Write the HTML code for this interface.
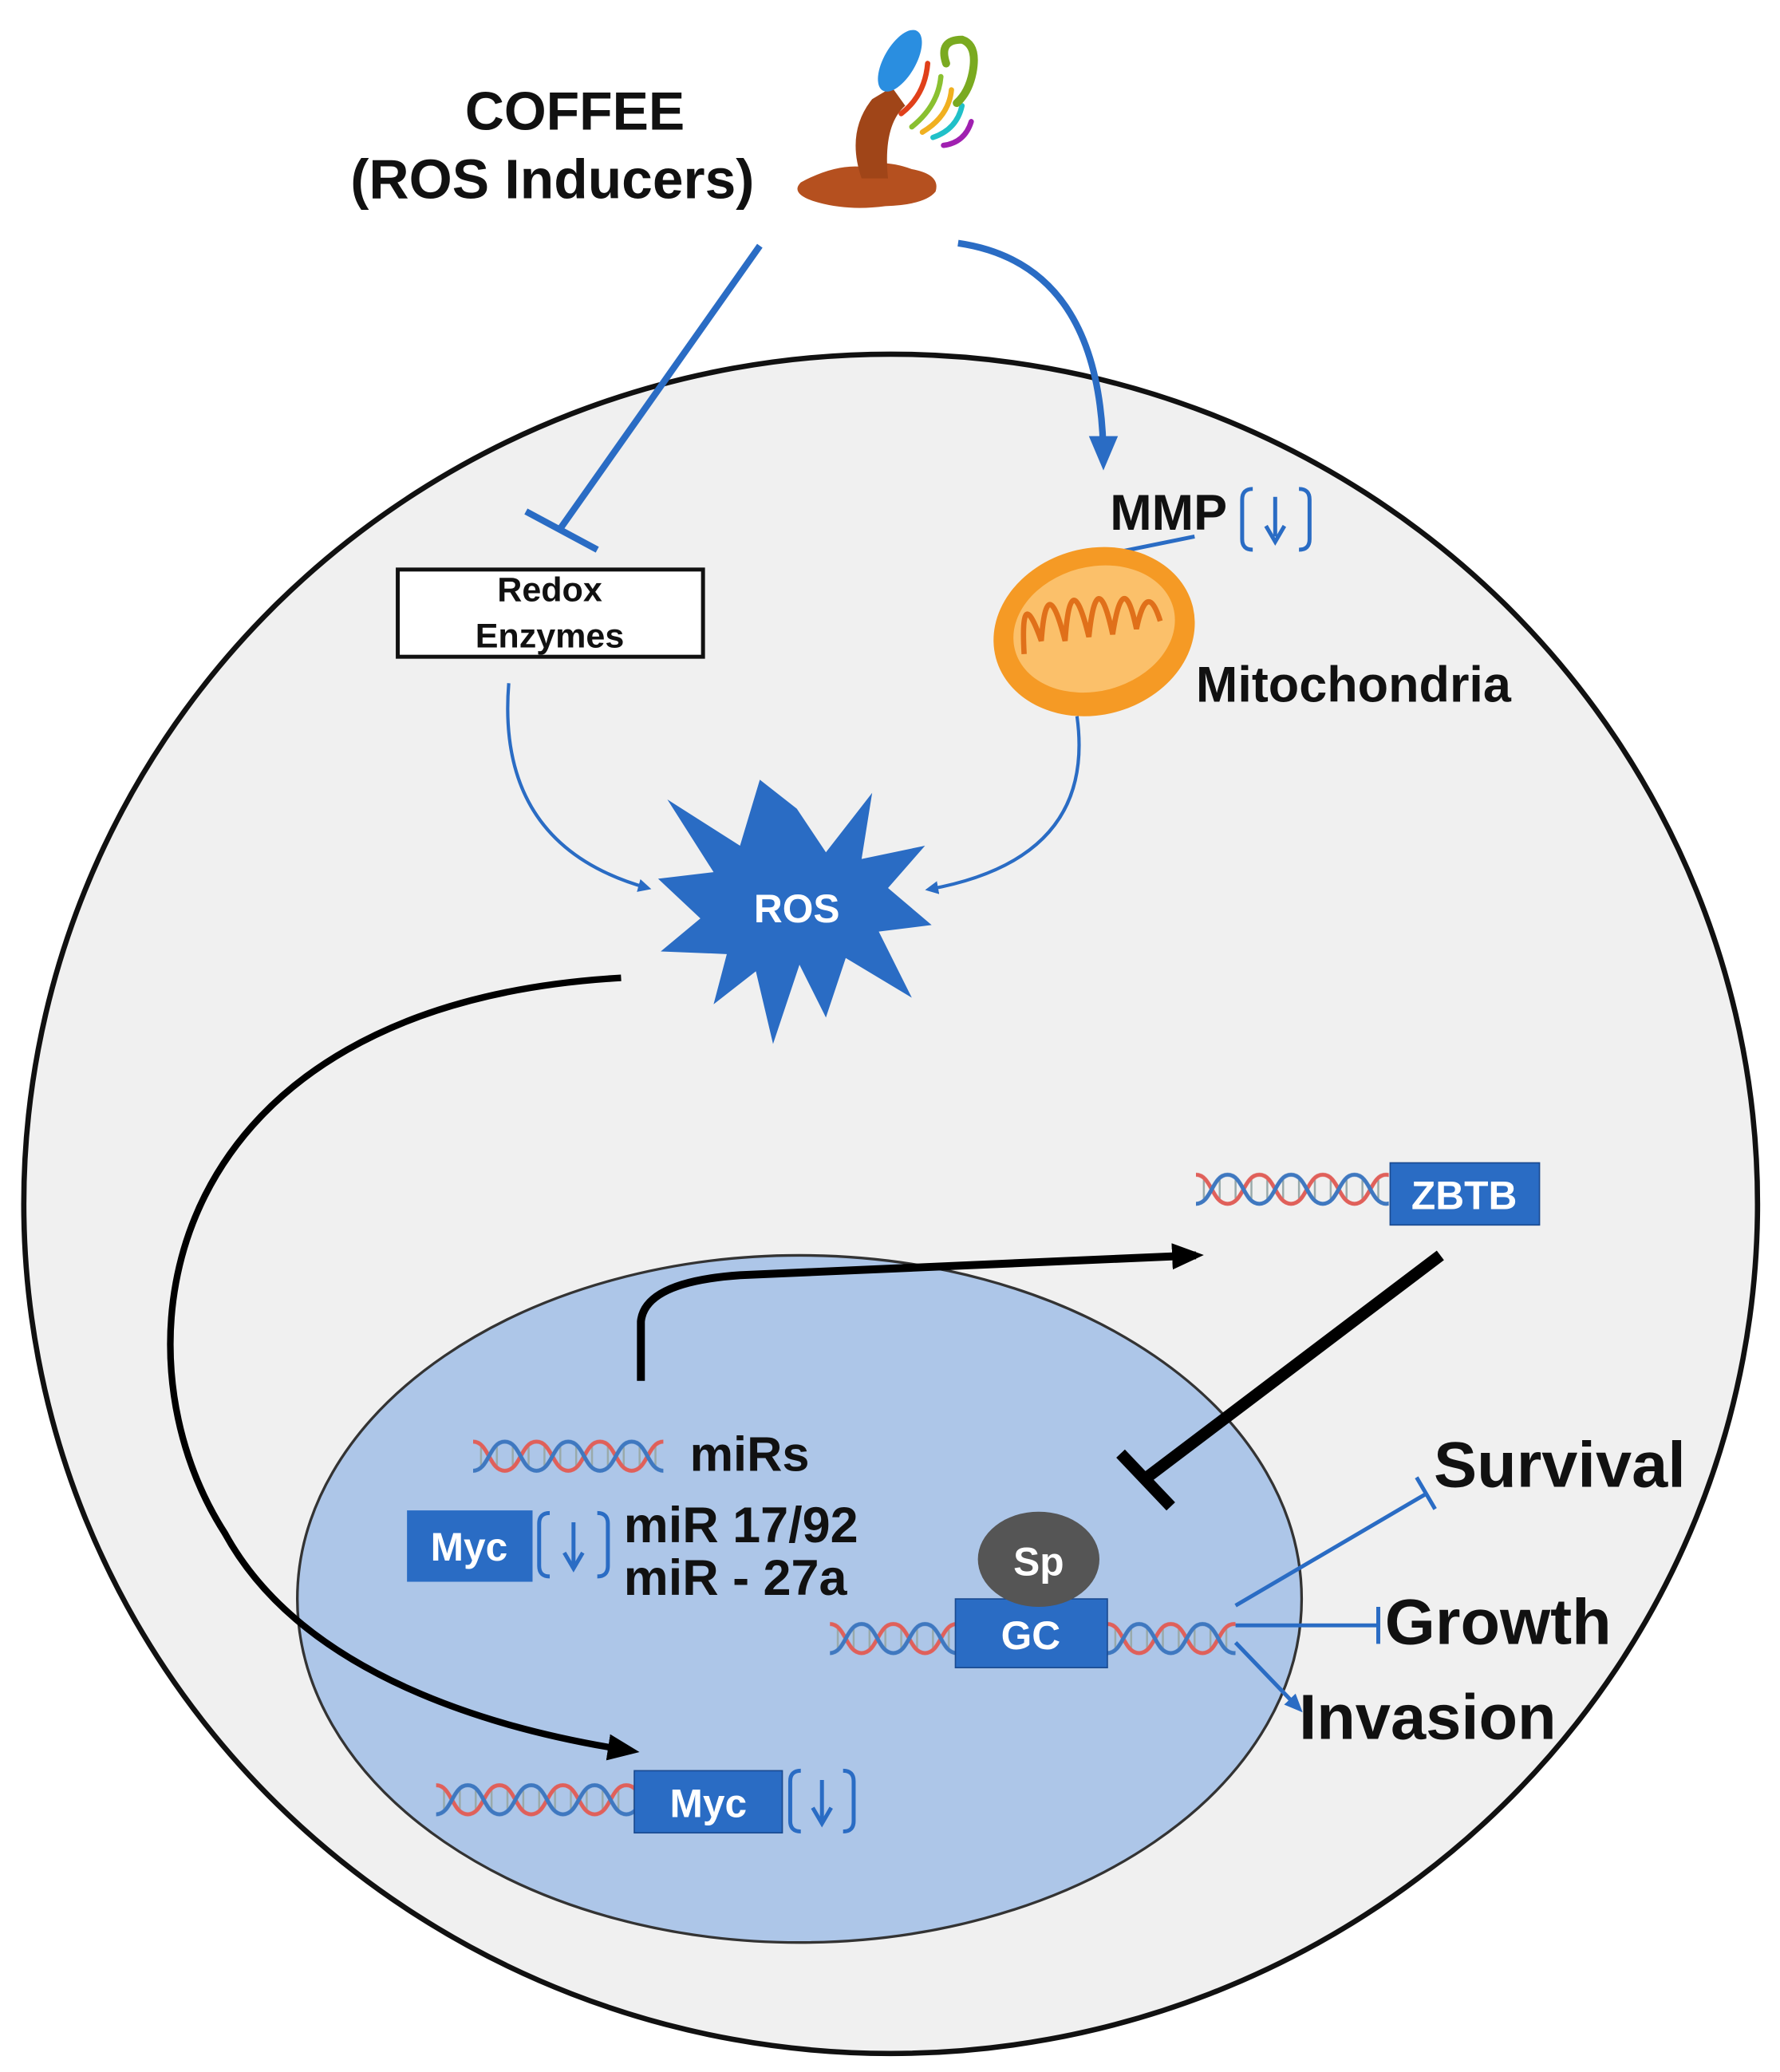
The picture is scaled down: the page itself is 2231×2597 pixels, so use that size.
<!DOCTYPE html>
<html><head><meta charset="utf-8"><style>html,body{margin:0;padding:0;background:#fff}svg{display:block}</style></head><body>
<svg width="2231" height="2597" viewBox="0 0 1347 1568" xmlns="http://www.w3.org/2000/svg" font-family="Liberation Sans, Arial, sans-serif">
<defs>
<pattern id="hx" width="48" height="30" patternUnits="userSpaceOnUse">
<g stroke="#9aa" stroke-width="1.5"><line x1="6" y1="8" x2="6" y2="22"/><line x1="12" y1="12" x2="12" y2="18"/><line x1="30" y1="8" x2="30" y2="22"/><line x1="36" y1="12" x2="36" y2="18"/><line x1="18" y1="8" x2="18" y2="22"/><line x1="42" y1="8" x2="42" y2="22"/></g>
<path d="M0,4 C12,4 12,26 24,26 C36,26 36,4 48,4" fill="none" stroke="#e0605a" stroke-width="3"/>
<path d="M0,26 C12,26 12,4 24,4 C36,4 36,26 48,26" fill="none" stroke="#3f78c0" stroke-width="3"/>
</pattern>
<marker id="ab" markerWidth="10" markerHeight="10" refX="7" refY="5" orient="auto" markerUnits="userSpaceOnUse" viewBox="0 0 10 10"><path d="M0,0 L10,5 L0,10 z" fill="#2a6cc4"/></marker>
<marker id="abig" markerWidth="26" markerHeight="26" refX="20" refY="13" orient="auto" markerUnits="userSpaceOnUse" viewBox="0 0 26 26"><path d="M0,2 L26,13 L0,24 z" fill="#2a6cc4"/></marker>
<marker id="ak" markerWidth="24" markerHeight="24" refX="18" refY="12" orient="auto" markerUnits="userSpaceOnUse" viewBox="0 0 24 24"><path d="M0,2 L24,12 L0,22 z" fill="#000"/></marker>
<marker id="abs" markerWidth="14" markerHeight="14" refX="10" refY="7" orient="auto" markerUnits="userSpaceOnUse" viewBox="0 0 14 14"><path d="M0,1 L14,7 L0,13 z" fill="#2a6cc4"/></marker>
</defs>
<rect width="1347" height="1568" fill="#fff"/>
<ellipse cx="674" cy="911" rx="656" ry="643" fill="#f0f0f0" stroke="#111" stroke-width="4"/>
<ellipse cx="605" cy="1210" rx="380" ry="260" fill="#adc6e8" stroke="#333" stroke-width="2"/>
<text x="435" y="98" font-size="41" font-weight="bold" text-anchor="middle" fill="#111">COFFEE</text>
<text x="418" y="150" font-size="42" font-weight="bold" text-anchor="middle" fill="#111">(ROS Inducers)</text>
<path d="M606,138 Q630,125 650,126 Q668,120 690,128 Q712,132 708,145 Q700,155 670,156 Q640,160 615,152 Q598,146 606,138z" fill="#b5501f"/>
<path d="M652,135 Q640,100 660,75 L675,66 L685,80 Q668,95 672,135z" fill="#a04518"/>
<ellipse cx="681" cy="46" rx="12" ry="26" transform="rotate(30 681 46)" fill="#2a8ee0"/>
<g fill="none" stroke-width="4" stroke-linecap="round">
<path d="M702,48 Q700,72 682,86" stroke="#e0401a"/>
<path d="M712,58 Q710,80 690,96" stroke="#8ac030"/>
<path d="M720,68 Q718,88 698,100" stroke="#f0b020"/>
<path d="M728,80 Q724,98 706,104" stroke="#20c0c8"/>
<path d="M735,92 Q730,108 714,110" stroke="#a020b0"/>
<path d="M716,48 Q710,30 728,30 Q740,34 736,55 Q733,70 724,78" stroke="#7aaa20" stroke-width="6"/>
</g>
<line x1="575" y1="186" x2="424" y2="400" stroke="#2a6cc4" stroke-width="5"/>
<line x1="398" y1="387" x2="452" y2="416" stroke="#2a6cc4" stroke-width="5"/>
<path d="M725,184 Q835,200 835,350" fill="none" stroke="#2a6cc4" stroke-width="5" marker-end="url(#abig)"/>
<text x="840" y="401" font-size="38" font-weight="bold" fill="#111">MMP</text>
<g fill="none" stroke="#2a6cc4" stroke-width="3">
<path d="M948,370 Q940,370 940,378 L940,408 Q940,416 948,416"/>
<path d="M983,370 Q991,370 991,378 L991,408 Q991,416 983,416"/>
<line x1="965" y1="376" x2="965" y2="406"/>
</g>
<path d="M958,398 L965,410 L972,398" fill="none" stroke="#2a6cc4" stroke-width="3"/>
<line x1="845" y1="418" x2="904" y2="406" stroke="#2a6cc4" stroke-width="3"/>
<rect x="301" y="431" width="231" height="66" fill="#fff" stroke="#111" stroke-width="3"/>
<text x="416" y="455" font-size="26" font-weight="bold" text-anchor="middle" fill="#111">Redox</text>
<text x="416" y="490" font-size="26" font-weight="bold" text-anchor="middle" fill="#111">Enzymes</text>
<ellipse cx="828" cy="478" rx="77" ry="63" transform="rotate(-15 828 478)" fill="#f59a25"/>
<ellipse cx="828" cy="476" rx="62" ry="47" transform="rotate(-15 828 476)" fill="#fbc06a"/>
<path d="M775,495 Q772,440 788,485 Q792,430 806,485 Q810,425 824,482 Q830,425 842,480 Q850,428 860,476 Q868,438 878,470" fill="none" stroke="#e0701a" stroke-width="4"/>
<text x="905" y="531" font-size="38" font-weight="bold" fill="#111">Mitochondria</text>
<path d="M385,517 Q375,640 490,672" fill="none" stroke="#2a6cc4" stroke-width="2.5" marker-end="url(#ab)"/>
<path d="M815,542 Q830,650 703,673" fill="none" stroke="#2a6cc4" stroke-width="2.5" marker-end="url(#ab)"/>
<polygon points="603,612 625,645 660,600 652,650 700,640 672,672 705,700 665,705 690,755 640,725 625,770 605,730 585,790 572,735 540,760 550,722 500,720 530,695 498,665 540,660 505,605 560,640 575,590" fill="#2a6cc4"/>
<text x="603" y="698" font-size="30" font-weight="bold" text-anchor="middle" fill="#fff">ROS</text>
<path d="M470,740 C120,760 80,1020 170,1160 C230,1270 380,1310 478,1325" fill="none" stroke="#000" stroke-width="5" marker-end="url(#ak)"/>
<path d="M485,1045 L485,1000 Q488,970 560,965 L905,950" fill="none" stroke="#000" stroke-width="6" marker-end="url(#ak)"/>
<svg x="905" y="885" width="146" height="30" overflow="hidden"><rect width="146" height="30" fill="url(#hx)"/></svg>
<rect x="1052" y="880" width="113" height="47" fill="#2a6cc4" stroke="#1a4a90" stroke-width="1"/>
<text x="1108" y="915" font-size="30" font-weight="bold" text-anchor="middle" fill="#fff">ZBTB</text>
<line x1="1090" y1="950" x2="868" y2="1118" stroke="#000" stroke-width="9"/>
<line x1="848" y1="1100" x2="886" y2="1140" stroke="#000" stroke-width="9"/>
<svg x="358" y="1087" width="144" height="30" overflow="hidden"><rect width="144" height="30" fill="url(#hx)"/></svg>
<text x="522" y="1113" font-size="37" font-weight="bold" fill="#111">miRs</text>
<rect x="308" y="1143" width="95" height="54" fill="#2a6cc4"/>
<text x="355" y="1181" font-size="30" font-weight="bold" text-anchor="middle" fill="#fff">Myc</text>
<g fill="none" stroke="#2a6cc4" stroke-width="3">
<path d="M416,1145 Q408,1145 408,1153 L408,1185 Q408,1193 416,1193"/>
<path d="M452,1145 Q460,1145 460,1153 L460,1185 Q460,1193 452,1193"/>
<line x1="434" y1="1152" x2="434" y2="1184"/>
<path d="M427,1175 L434,1187 L441,1175"/>
</g>
<text x="472" y="1167" font-size="38" font-weight="bold" fill="#111">miR 17/92</text>
<text x="472" y="1207" font-size="38" font-weight="bold" fill="#111">miR - 27a</text>
<svg x="628" y="1225" width="96" height="30" overflow="hidden"><rect width="96" height="30" fill="url(#hx)"/></svg>
<svg x="838" y="1225" width="97" height="30" overflow="hidden"><rect width="97" height="30" fill="url(#hx)"/></svg>
<rect x="723" y="1210" width="115" height="52" fill="#2a6cc4" stroke="#1a4a90" stroke-width="1"/>
<text x="780" y="1248" font-size="30" font-weight="bold" text-anchor="middle" fill="#fff">GC</text>
<ellipse cx="786" cy="1180" rx="46" ry="36" fill="#555"/>
<text x="786" y="1192" font-size="30" font-weight="bold" text-anchor="middle" fill="#fff">Sp</text>
<line x1="935" y1="1215" x2="1080" y2="1130" stroke="#2a6cc4" stroke-width="3"/>
<line x1="1072" y1="1118" x2="1086" y2="1142" stroke="#2a6cc4" stroke-width="3"/>
<line x1="935" y1="1230" x2="1043" y2="1230" stroke="#2a6cc4" stroke-width="3"/>
<line x1="1043" y1="1216" x2="1043" y2="1244" stroke="#2a6cc4" stroke-width="3"/>
<line x1="935" y1="1243" x2="983" y2="1293" stroke="#2a6cc4" stroke-width="3" marker-end="url(#abs)"/>
<text x="1085" y="1125" font-size="49" font-weight="bold" fill="#111">Survival</text>
<text x="1048" y="1244" font-size="49" font-weight="bold" fill="#111">Growth</text>
<text x="983" y="1316" font-size="48" font-weight="bold" fill="#111">Invasion</text>
<svg x="330" y="1347" width="150" height="30" overflow="hidden"><rect width="150" height="30" fill="url(#hx)"/></svg>
<rect x="480" y="1340" width="112" height="47" fill="#2a6cc4" stroke="#1a4a90" stroke-width="1"/>
<text x="536" y="1375" font-size="30" font-weight="bold" text-anchor="middle" fill="#fff">Myc</text>
<g fill="none" stroke="#2a6cc4" stroke-width="3">
<path d="M606,1340 Q598,1340 598,1348 L598,1378 Q598,1386 606,1386"/>
<path d="M638,1340 Q646,1340 646,1348 L646,1378 Q646,1386 638,1386"/>
<line x1="622" y1="1347" x2="622" y2="1378"/>
<path d="M615,1368 L622,1380 L629,1368"/>
</g>
</svg>
</body></html>
